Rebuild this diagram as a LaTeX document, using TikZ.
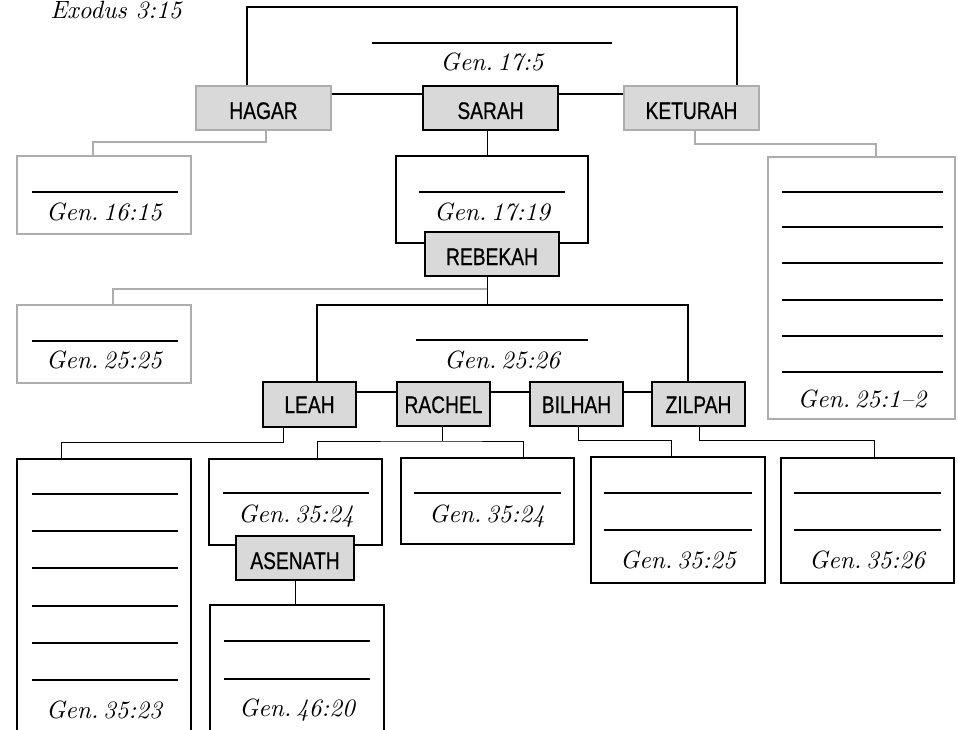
\documentclass[tikz,border=0pt]{standalone}
\usepackage{fontspec}
\newfontfamily\namefont[FakeStretch=0.8,FakeBold=0.6]{Liberation Sans}
\newfontfamily\reffont{lmroman10-italic}[Extension=.otf]
\newcommand\gsp{\hspace{0.18em}}
\definecolor{boxfill}{HTML}{D9D9D9}
\definecolor{greyline}{HTML}{ADADAD}
\tikzset{
  kbox/.style={draw=black, line width=2pt, fill=white, inner sep=0pt},
  gbox/.style={draw=greyline, line width=1.3pt, fill=white, inner sep=0pt},
  kname/.style={draw=black, line width=2pt, fill=boxfill, inner sep=0pt},
  gname/.style={draw=greyline, line width=1.3pt, fill=boxfill, inner sep=0pt},
  kline/.style={draw=black, line width=2pt},
  tline/.style={draw=black, line width=1pt},
  gline/.style={draw=greyline, line width=1.3pt},
  blank/.style={draw=black, line width=1.25pt},
  ref/.style={font=\reffont\fontsize{25}{29}\selectfont, anchor=base, inner sep=0pt},
  nm/.style={anchor=base, inner sep=0pt, font=\namefont\fontsize{24}{27}\selectfont}
}
\begin{document}
\begin{tikzpicture}[x=1pt,y=-1pt]
\useasboundingbox[fill=white] (0,0) rectangle (958,730);

% ---- top row: Abraham's wives
\node[ref] (exodus) at (116,18.5) {Exodus 3:15};
\node[gname, minimum width=135pt, minimum height=44pt] (hagar) at (263.5,108) {};
\node[kname, minimum width=135pt, minimum height=44pt] (sarah) at (490.5,108) {};
\node[gname, minimum width=135pt, minimum height=44pt] (keturah) at (691.5,108) {};
\node[nm] (hagart) at (263.5,119) {HAGAR};
\node[nm] (saraht) at (490.5,119) {SARAH};
\node[nm] (keturaht) at (691.5,119) {KETURAH};
\draw[kline] (hagar.north -| 247,0) |- (737,7) -- (keturah.north -| 737,0);
\draw[blank] (372,43) -- (612,43);
\node[ref] (g175) at (492,71) {Gen.\gsp 17:5};
\draw[kline] (hagar.east |- 0,94) -- (sarah.west |- 0,94);
\draw[kline] (sarah.east |- 0,94) -- (keturah.west |- 0,94);

% ---- Ishmael
\node[gbox, minimum width=174pt, minimum height=78pt] (ishmael) at (104,195) {};
\draw[gline] (hagar.south -| 266,0) -- (266,142) -| (ishmael.north -| 93,0);
\draw[blank] (32,192) -- (178,192);
\node[ref] (g1615) at (104,220) {Gen.\gsp 16:15};

% ---- Keturah's sons
\node[gbox, minimum width=187pt, minimum height=262pt] (ketsons) at (861.5,288) {};
\draw[gline] (keturah.south -| 695,0) -- (695,144) -| (ketsons.north -| 876,0);
\foreach \yy in {192,227,263,300,336,372} \draw[blank] (782,\yy) -- (943,\yy);
\node[ref] (g251) at (862,407) {Gen.\gsp 25:1–2};

% ---- Isaac and Rebekah
\node[kbox, minimum width=192pt, minimum height=87pt] (isaac) at (492,199.5) {};
\draw[tline] (sarah.south -| 487,0) -- (isaac.north -| 487,0);
\draw[blank] (419,192) -- (565,192);
\node[ref] (g1719) at (492,220) {Gen.\gsp 17:19};
\node[kname, minimum width=134pt, minimum height=44pt] (rebekah) at (492,254) {};
\node[nm] (rebekaht) at (492,265) {REBEKAH};

% ---- Esau
\node[gbox, minimum width=174pt, minimum height=78pt] (esau) at (104,344) {};
\coordinate (rbk) at (487,289);
\draw[gline] (rbk) -| (esau.north -| 113,0);
\draw[blank] (32,341) -- (178,341);
\node[ref] (g2525) at (104,368) {Gen.\gsp 25:25};

% ---- Jacob and his wives
\node[kname, minimum width=93pt, minimum height=45pt] (leah) at (309.5,404.5) {};
\node[kname, minimum width=93pt, minimum height=44pt] (rachel) at (443.5,404) {};
\node[kname, minimum width=93pt, minimum height=44pt] (bilhah) at (576.5,404) {};
\node[kname, minimum width=93pt, minimum height=44pt] (zilpah) at (698.5,404) {};
\node[nm] (leaht) at (309.5,413) {LEAH};
\node[nm] (rachelt) at (443.5,413) {RACHEL};
\node[nm] (bilhaht) at (576.5,413) {BILHAH};
\node[nm] (zilpaht) at (698.5,413) {ZILPAH};
\draw[tline] (rebekah.south -| 487,0) -- (487,305);
\draw[kline] (leah.north -| 317,0) |- (688,305) -- (zilpah.north -| 688,0);
\draw[blank] (416,340) -- (588,340);
\node[ref] (g2526) at (502,368) {Gen.\gsp 25:26};
\draw[kline] (leah.east |- 0,392) -- (rachel.west |- 0,392);
\draw[kline] (rachel.east |- 0,392) -- (bilhah.west |- 0,392);
\draw[kline] (bilhah.east |- 0,392) -- (zilpah.west |- 0,392);

% ---- Leah's sons
\node[kbox, minimum width=174pt, minimum height=286pt] (leahsons) at (104,602) {};
\draw[tline] (leah.south -| 283,0) -- (283,442) -| (leahsons.north -| 61,0);
\foreach \yy in {494,531,568,606,643,680} \draw[blank] (32,\yy) -- (178,\yy);
\node[ref] (g3523) at (104,718) {Gen.\gsp 35:23};

% ---- Rachel's sons
\node[kbox, minimum width=173pt, minimum height=86pt] (joseph) at (295.5,502) {};
\node[kbox, minimum width=173pt, minimum height=86pt] (benjamin) at (487.5,501) {};
\coordinate (rch) at (442,441);
\draw[tline] (rachel.south -| 442,0) -- (rch);
\draw[tline] (joseph.north -| 317,0) |- (rch) -| (benjamin.north -| 523,0);
\draw[blank] (223,493) -- (369,493);
\node[ref] (g3524a) at (296,522) {Gen.\gsp 35:24};
\draw[blank] (414,493) -- (561,493);
\node[ref] (g3524b) at (487,522) {Gen.\gsp 35:24};
\node[kname, minimum width=118pt, minimum height=44pt] (asenath) at (295,558) {};
\node[nm] (asenatht) at (295,569) {ASENATH};
\node[kbox, minimum width=174pt, minimum height=140pt] (manasseh) at (297,675) {};
\draw[tline] (asenath.south -| 295,0) -- (manasseh.north -| 295,0);
\draw[blank] (224,641) -- (370,641);
\draw[blank] (224,679) -- (370,679);
\node[ref] (g4620) at (297,716) {Gen.\gsp 46:20};

% ---- Bilhah's sons
\node[kbox, minimum width=174pt, minimum height=126pt] (dan) at (678,520) {};
\draw[tline] (bilhah.south -| 578,0) -- (578,440) -| (dan.north -| 671,0);
\draw[blank] (604,493) -- (752,493);
\draw[blank] (604,530) -- (752,530);
\node[ref] (g3525) at (678,568) {Gen.\gsp 35:25};

% ---- Zilpah's sons
\node[kbox, minimum width=173pt, minimum height=125pt] (gad) at (867.5,520.5) {};
\draw[tline] (zilpah.south -| 699,0) -- (699,440) -| (gad.north -| 874,0);
\draw[blank] (794,493) -- (941,493);
\draw[blank] (794,530) -- (941,530);
\node[ref] (g3526) at (867,568) {Gen.\gsp 35:26};
\end{tikzpicture}
\end{document}
